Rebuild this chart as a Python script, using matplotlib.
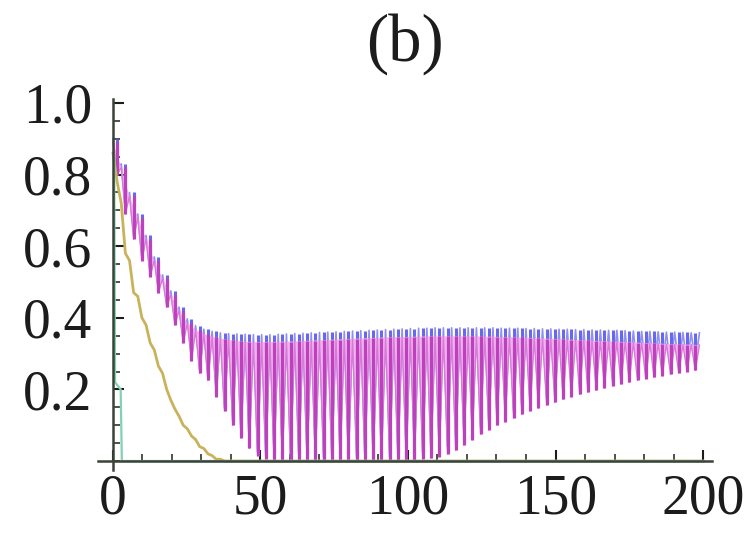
import numpy as np
import matplotlib
matplotlib.use("Agg")
import matplotlib.pyplot as plt
from matplotlib.ticker import MultipleLocator, FixedLocator
from matplotlib.collections import PolyCollection

# ---------------- data ----------------
step = 2.8  # oscillation period in time units

mag_peaks = [0.890, 0.820, 0.740, 0.680, 0.620, 0.560, 0.510, 0.465, 0.420, 0.385,
             0.365, 0.355, 0.347, 0.342, 0.338, 0.335, 0.333, 0.332, 0.332, 0.332,
             0.333, 0.333, 0.334, 0.335, 0.336, 0.337, 0.338, 0.339, 0.340, 0.341,
             0.342, 0.343, 0.344, 0.345, 0.346, 0.346, 0.347, 0.347, 0.348, 0.348,
             0.348, 0.348, 0.348, 0.348, 0.348, 0.347, 0.347, 0.346, 0.346, 0.345,
             0.344, 0.343, 0.342, 0.341, 0.340, 0.339, 0.338, 0.337, 0.336, 0.335,
             0.334, 0.333, 0.332, 0.331, 0.330, 0.329, 0.328, 0.327, 0.326, 0.325,
             0.325, 0.324]
mag_troughs = [0.800, 0.690, 0.620, 0.560, 0.515, 0.470, 0.430, 0.380, 0.330, 0.280,
               0.245, 0.225, 0.180, 0.140, 0.100, 0.065, 0.035, 0.015, 0.005, 0.003,
               0.002, 0.002, 0.002, 0.002, 0.002, 0.002, 0.002, 0.002, 0.002, 0.002,
               0.002, 0.002, 0.002, 0.002, 0.002, 0.002, 0.003, 0.005, 0.008, 0.012,
               0.020, 0.030, 0.045, 0.060, 0.075, 0.088, 0.100, 0.110, 0.120, 0.130,
               0.140, 0.148, 0.156, 0.164, 0.172, 0.180, 0.186, 0.192, 0.198, 0.204,
               0.210, 0.215, 0.220, 0.225, 0.230, 0.234, 0.238, 0.242, 0.246, 0.250,
               0.253]

blue_peaks = [0.900, 0.830, 0.750, 0.690, 0.630, 0.570, 0.520, 0.475, 0.430, 0.397,
              0.378, 0.368, 0.362, 0.358, 0.356, 0.355, 0.354, 0.353, 0.353, 0.353,
              0.354, 0.355, 0.356, 0.357, 0.358, 0.359, 0.360, 0.361, 0.362, 0.363,
              0.364, 0.365, 0.366, 0.367, 0.368, 0.369, 0.370, 0.371, 0.371, 0.372,
              0.372, 0.372, 0.372, 0.372, 0.372, 0.372, 0.372, 0.371, 0.371, 0.371,
              0.370, 0.370, 0.369, 0.369, 0.368, 0.368, 0.367, 0.367, 0.366, 0.366,
              0.365, 0.365, 0.364, 0.363, 0.362, 0.362, 0.361, 0.360, 0.360, 0.359,
              0.358, 0.358]
blue_troughs = [0.810, 0.700, 0.630, 0.570, 0.525, 0.480, 0.440, 0.390, 0.340, 0.290,
                0.255, 0.235, 0.190, 0.150, 0.110, 0.075, 0.045, 0.025, 0.015, 0.012,
                0.010, 0.010, 0.010, 0.010, 0.010, 0.010, 0.010, 0.010, 0.010, 0.010,
                0.010, 0.010, 0.010, 0.010, 0.012, 0.014, 0.016, 0.020, 0.025, 0.030,
                0.040, 0.050, 0.065, 0.080, 0.095, 0.108, 0.120, 0.130, 0.140, 0.150,
                0.160, 0.168, 0.176, 0.184, 0.192, 0.200, 0.206, 0.212, 0.218, 0.224,
                0.230, 0.235, 0.240, 0.245, 0.250, 0.254, 0.258, 0.262, 0.266, 0.270,
                0.273]

yel_peaks = [0.860, 0.720, 0.560, 0.460, 0.380, 0.310, 0.245, 0.170, 0.125, 0.090,
             0.060, 0.035, 0.015, 0.005]
yel_troughs = [0.780, 0.580, 0.470, 0.400, 0.330, 0.265, 0.200, 0.145, 0.100, 0.070,
               0.040, 0.020, 0.005, 0.000]
yel_tail_t = [200.0]
yel_tail_v = [0.0]

green_t = [0.4, 0.7, 2.6, 3.0, 200.0]
green_v = [0.85, 0.22, 0.20, 0.0, 0.0]

x_ticks = [0, 50, 100, 150, 200]
y_ticks = [0.2, 0.4, 0.6, 0.8, 1.0]
y_tick_labels = ["0.2", "0.4", "0.6", "0.8", "1.0"]
title_text = "(b)"


def times(peaks, troughs):
    pt = np.arange(len(peaks)) * step
    tt = pt[:len(troughs)] + step / 2
    return pt, tt


def zigzag(peaks, troughs):
    pt, tt = times(peaks, troughs)
    n = len(peaks) + len(troughs)
    t = np.empty(n)
    v = np.empty(n)
    t[0::2] = pt
    v[0::2] = peaks
    t[1::2] = tt
    v[1::2] = troughs
    return t, v


def dips(peaks, troughs):
    pt, tt = times(peaks, troughs)
    polys = []
    for k in range(len(troughs)):
        polys.append([(pt[k], peaks[k]), (tt[k], troughs[k]), (pt[k + 1], peaks[k + 1])])
    return polys


plt.rcParams['font.family'] = ['Liberation Serif', 'DejaVu Serif']

fig = plt.figure(figsize=(7.54, 5.34), dpi=100)
ax = fig.add_axes([0.1303, 0.1199, 0.8138, 0.694])
ax.set_xlim(-5, 203)
ax.set_ylim(-0.025, 1.01)

# blue series
bt, bv = zigzag(blue_peaks, blue_troughs)
ax.plot(bt, bv, color='#8f8ff5', lw=1.2, zorder=2)
pt_b, tt_b = times(blue_peaks, blue_troughs)
ax.vlines(tt_b, blue_troughs, blue_peaks[:-1], color='#6868ee', lw=2.2, zorder=2.1)

# magenta series
ax.add_collection(PolyCollection(dips(mag_peaks, mag_troughs), facecolor='#eeb2ee',
                                 edgecolor='none', zorder=3))
mt, mv = zigzag(mag_peaks, mag_troughs)
ax.plot(mt, mv, color='#d77ad7', lw=1.0, zorder=3.1)
pt_m, tt_m = times(mag_peaks, mag_troughs)
ax.vlines(tt_m, mag_troughs, mag_peaks[:-1], color='#bd40bd', lw=2.3, zorder=3.2)

# yellow and green series
yt, yv = zigzag(yel_peaks, yel_troughs)
yt = np.concatenate([yt, yel_tail_t])
yv = np.concatenate([yv, yel_tail_v])
ax.plot(yt, yv, color='#c9b25a', lw=2.0, zorder=4)
ax.plot(green_t, green_v, color='#7fd3b2', lw=1.6, zorder=5)

for s in ['top', 'right']:
    ax.spines[s].set_visible(False)
for s in ['left', 'bottom']:
    ax.spines[s].set_position(('data', 0))
    ax.spines[s].set_color('#3a4339')
    ax.spines[s].set_linewidth(1.8)
    ax.spines[s].set_zorder(6)

ax.xaxis.set_major_locator(FixedLocator(x_ticks))
ax.xaxis.set_minor_locator(MultipleLocator(10))
ax.yaxis.set_major_locator(FixedLocator(y_ticks))
ax.set_yticklabels(y_tick_labels)
ax.yaxis.set_minor_locator(MultipleLocator(0.05))
ax.tick_params(which='both', direction='in', color='#2e342e')
ax.tick_params(which='major', length=8, width=1.5, labelsize=40, colors='#1c1c1c')
ax.tick_params(which='minor', length=5, width=1.2, color='#2e342e')
ax.tick_params(axis='y', which='major', pad=15)
ax.tick_params(axis='x', which='major', pad=9)

fig.text(405 / 754, 1 - 44 / 534, title_text, ha='center', va='center',
         fontsize=48, color='#1c1c1c')

fig.savefig('out.png', dpi=100)
